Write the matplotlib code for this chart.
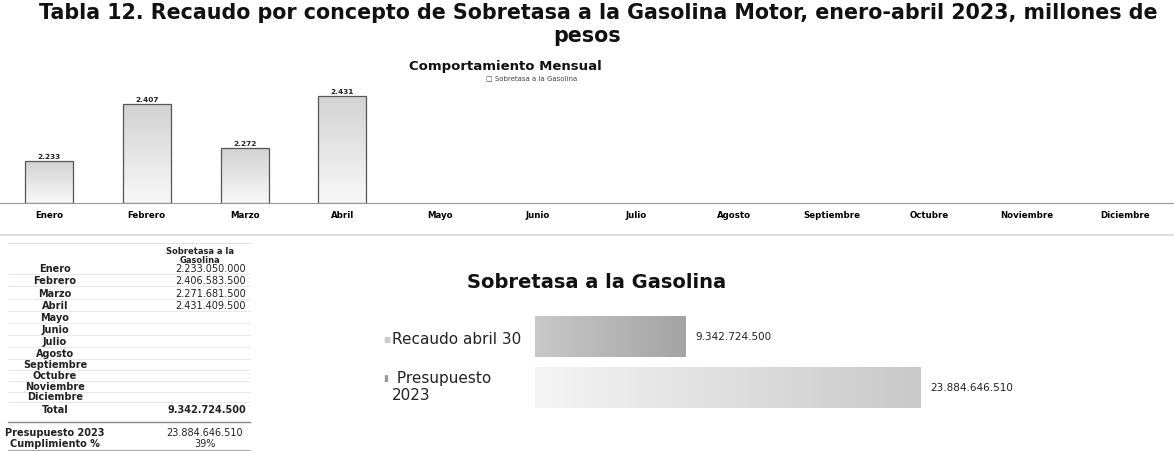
import matplotlib.pyplot as plt
import numpy as np

W, H = 1174, 452

meses = ['Enero', 'Febrero', 'Marzo', 'Abril', 'Mayo', 'Junio', 'Julio', 'Agosto',
         'Septiembre', 'Octubre', 'Noviembre', 'Diciembre']
recaudo = [2233050000, 2406583500, 2271681500, 2431409500]
presupuesto = 23884646510
comparativo_labels = ['Recaudo abril 30', 'Presupuesto\n2023']

total = sum(recaudo)
cumplimiento = total / presupuesto


def fmt(v):
    return f"{v:,}".replace(',', '.')


def box(x0, y0, x1, y1):
    # pixel box (top-left origin) -> figure fraction rect
    return [x0 / W, 1 - y1 / H, (x1 - x0) / W, (y1 - y0) / H]


def gradient_bars(ax, bars, c0, c1, vertical=True):
    cmap = plt.matplotlib.colors.LinearSegmentedColormap.from_list('g', [c0, c1])
    for b in bars:
        x, y = b.get_xy()
        w, h = b.get_width(), b.get_height()
        g = np.linspace(0, 1, 64)
        img = g.reshape(-1, 1) if vertical else g.reshape(1, -1)
        im = ax.imshow(img, cmap=cmap, extent=(x, x + w, y, y + h), origin='lower',
                       aspect='auto', zorder=1, interpolation='bilinear')
        im.set_clip_path(b)
        b.set_facecolor('none')
        b.set_zorder(2)


fig = plt.figure(figsize=(W / 100, H / 100), dpi=100)
fig.patch.set_facecolor('white')

fig.text(598 / W, 1 - 13 / H, 'Tabla 12. Recaudo por concepto de Sobretasa a la Gasolina Motor, enero-abril 2023, millones de',
         ha='center', va='center', fontsize=14.9, fontweight='bold', color='#111111')
fig.text(587 / W, 1 - 36 / H, 'pesos', ha='center', va='center', fontsize=14.9,
         fontweight='bold', color='#111111')

# ---- monthly chart
base = 2.105
ax = fig.add_axes(box(0, 85, 1174, 204))
x = np.arange(len(meses))
bars = ax.bar(x[:len(recaudo)], [v / 1e9 - base for v in recaudo], width=0.49, bottom=base,
              edgecolor='#555555', linewidth=0.9)
gradient_bars(ax, bars, '#f8f8f8', '#d2d2d2')
for xi, v in zip(x, recaudo):
    ax.text(xi, v / 1e9 + 0.006, f"{v / 1e9:.3f}", ha='center', va='bottom',
            fontsize=5.3, fontweight='bold', color='#222222')
ax.set_xlim(-0.5, 11.5)
ax.set_ylim(base, 2.468)
ax.set_xticks(x)
ax.set_xticklabels(meses, fontsize=6.2, fontweight='bold')
ax.tick_params(axis='x', length=0, pad=5)
ax.set_yticks([])
for s in ['top', 'left', 'right']:
    ax.spines[s].set_visible(False)
ax.spines['bottom'].set_color('#999999')
ax.patch.set_alpha(0)

fig.text(505 / W, 1 - 67 / H, 'Comportamiento Mensual', ha='center', va='center',
         fontsize=9.5, fontweight='bold', color='#111111')
fig.text(532 / W, 1 - 78 / H, '\u25a1 Sobretasa a la Gasolina', ha='center', va='center',
         fontsize=5, color='#444444')

fig.add_artist(plt.Line2D([0, 1], [1 - 236 / H] * 2, color='#d8d8d8', lw=1.2))

# ---- table
tx_lab, tx_val = 55, 246
fs = 7
fig.text(200 / W, 1 - 256 / H, 'Sobretasa a la\nGasolina', ha='center', va='center',
         fontsize=6, fontweight='bold', color='#222222', linespacing=1.0)
row_y = [269, 281, 294, 306, 318, 330, 342, 354, 365, 376, 387, 397]
for i, (m, yy) in enumerate(zip(meses, row_y)):
    fig.text(tx_lab / W, 1 - yy / H, m, ha='center', va='center', fontsize=fs,
             fontweight='bold', color='#222222')
    if i < len(recaudo):
        fig.text(tx_val / W, 1 - yy / H, fmt(recaudo[i]), ha='right', va='center',
                 fontsize=fs, color='#222222')
    fig.add_artist(plt.Line2D([8 / W, 250 / W], [1 - (yy + 6) / H] * 2, color='#e4e4e4', lw=0.6))
fig.text(tx_lab / W, 1 - 410 / H, 'Total', ha='center', va='center', fontsize=fs,
         fontweight='bold', color='#222222')
fig.text(tx_val / W, 1 - 410 / H, fmt(total), ha='right', va='center', fontsize=fs,
         fontweight='bold', color='#222222')
fig.add_artist(plt.Line2D([8 / W, 250 / W], [1 - 423 / H] * 2, color='#888888', lw=1.0))
fig.text(tx_lab / W, 1 - 433 / H, 'Presupuesto 2023', ha='center', va='center', fontsize=fs,
         fontweight='bold', color='#222222')
fig.text(205 / W, 1 - 433 / H, fmt(presupuesto), ha='center', va='center', fontsize=fs,
         color='#222222')
fig.text(tx_lab / W, 1 - 444 / H, 'Cumplimiento %', ha='center', va='center', fontsize=fs,
         fontweight='bold', color='#222222')
fig.text(205 / W, 1 - 444 / H, f"{cumplimiento:.0%}", ha='center', va='center', fontsize=fs,
         color='#222222')
fig.add_artist(plt.Line2D([8 / W, 250 / W], [1 - 451 / H] * 2, color='#aaaaaa', lw=0.8))
fig.add_artist(plt.Line2D([8 / W, 250 / W], [1 - 244 / H] * 2, color='#dddddd', lw=0.6))

# ---- comparison chart
ax2 = fig.add_axes(box(535, 312, 1174, 414))
vals = [total, presupuesto]
yp = [1, 0]
hb = ax2.barh(yp, vals, height=0.8, edgecolor='none')
gradient_bars(ax2, [hb[0]], '#c8c8c8', '#a4a4a4', vertical=False)
gradient_bars(ax2, [hb[1]], '#f4f4f4', '#c9c9c9', vertical=False)
xmax = presupuesto * (1174 - 535) / (921 - 535)
ax2.set_xlim(0, xmax)
ax2.set_ylim(-0.5, 1.5)
for yi, v in zip(yp, vals):
    ax2.text(v + xmax * 0.015, yi, fmt(v), ha='left', va='center', fontsize=7.5, color='#222222')
ax2.axis('off')

fig.text(392 / W, 1 - 340 / H, comparativo_labels[0], ha='left', va='center', fontsize=11, color='#222222')
fig.text(383 / W, 1 - 340 / H, '\u25a0', ha='left', va='center', fontsize=5.5, color='#cccccc')
fig.text(392 / W, 1 - 387 / H, ' ' + comparativo_labels[1], ha='left', va='center', fontsize=11,
         color='#222222', linespacing=1.1)
fig.text(383 / W, 1 - 379 / H, '\u25ae', ha='left', va='center', fontsize=6.5, color='#999999')
fig.text(597 / W, 1 - 283 / H, 'Sobretasa a la Gasolina', ha='center', va='center',
         fontsize=14, fontweight='bold', color='#111111')

fig.savefig('out.png', dpi=100, facecolor='white')
